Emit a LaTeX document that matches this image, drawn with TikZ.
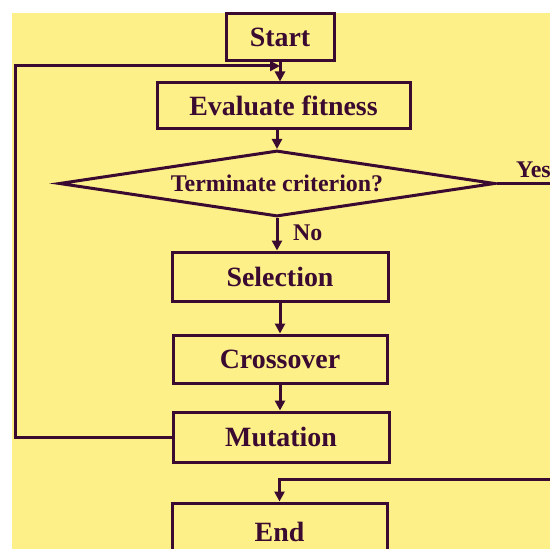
\documentclass[tikz,border=0pt]{standalone}
\usepackage{fontspec}
\setmainfont{Liberation Serif}
\usetikzlibrary{shapes.geometric,arrows.meta}
\definecolor{bg}{HTML}{FDF088}
\definecolor{ink}{HTML}{3A0A30}
\begin{document}
\begin{tikzpicture}[x=1bp,y=-1bp,
  box/.style={draw=ink, line width=3bp, inner sep=0pt, text=ink,
    font=\fontsize{28}{31}\selectfont\bfseries},
  dec/.style={diamond, aspect=6.6, draw=ink, line width=3bp, inner sep=0pt, text=ink,
    font=\fontsize{24}{27}\selectfont\bfseries},
  lbl/.style={text=ink, inner sep=0pt, font=\fontsize{24}{27}\selectfont\bfseries},
  ln/.style={draw=ink, line width=3bp},
  arr/.style={draw=ink, line width=3bp, -{Triangle[length=10bp,width=10bp]}}]
\useasboundingbox (0,0) rectangle (550,549);
\clip (0,0) rectangle (550,549);
\fill[white] (0,0) rectangle (550,549);
\fill[bg] (12,13) rectangle (550,549);
\node[box, minimum width=108bp, minimum height=47bp] (start) at (280,37.5) {Start};
\node[box, minimum width=253bp, minimum height=46bp] (eval) at (283.5,106) {Evaluate fitness};
\node[dec, minimum width=436bp, minimum height=66bp] (term) at (277,183.5) {Terminate criterion?};
\node[box, minimum width=216bp, minimum height=49bp] (sel) at (280,276.5) {Selection};
\node[box, minimum width=214bp, minimum height=48bp] (cross) at (280,359) {Crossover};
\node[box, minimum width=216bp, minimum height=50bp] (mut) at (281,437) {Mutation};
\node[box, minimum width=215bp, minimum height=58bp] (end) at (279.5,532) {End};
\node[lbl, anchor=base west] (no) at (293,240) {No};
\node[lbl, anchor=base west] (yes) at (516,178) {Yes};
\coordinate (lb) at (15,437);
\coordinate (lt) at (15,66);
\coordinate (yr) at (550,183.5);
\coordinate (er) at (550,479);
\draw[arr] (start.south) -- (start.south |- eval.north);
\draw[arr] (term.north |- eval.south) -- (term.north);
\draw[arr] (term.south) -- (term.south |- sel.north);
\draw[arr] (sel.south) -- (sel.south |- cross.north);
\draw[arr] (cross.south) -- (cross.south |- mut.north);
\draw[arr] (mut.west) -- (lb) -- (lt) -- (lt -| start.south);
\draw[ln] (term.east) -- (yr);
\draw[arr] (er) -- (er -| end.north) -- (end.north);
\end{tikzpicture}
\end{document}
